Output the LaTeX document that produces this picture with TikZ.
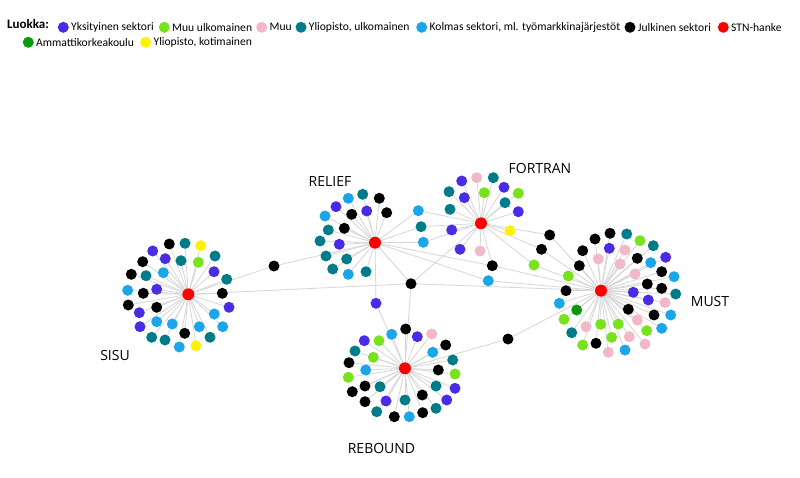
\documentclass[tikz,border=0pt]{standalone}
\usepackage{fontspec}
\setmainfont{Carlito}
\newfontfamily\labelfont{Open Sans}
\usetikzlibrary{backgrounds}
\definecolor{cP}{HTML}{4A2BE6}
\definecolor{cG}{HTML}{78E31C}
\definecolor{cK}{HTML}{F2B8C6}
\definecolor{cT}{HTML}{007C88}
\definecolor{cB}{HTML}{1BA6EA}
\definecolor{cX}{HTML}{000000}
\definecolor{cR}{HTML}{FF0000}
\definecolor{cD}{HTML}{0A990A}
\definecolor{cY}{HTML}{FFF200}
\definecolor{cE}{HTML}{D6D6D6}
\begin{document}
\begin{tikzpicture}[x=1pt,y=-1pt,
  dot/.style={circle,inner sep=0pt,minimum size=11pt,draw=none},
  hub/.style={dot,fill=cR,minimum size=12pt},
  edge/.style={draw=cE,line width=0.8pt},
  proj/.style={font=\labelfont\fontsize{14}{16}\selectfont,inner sep=0pt},
  legtxt/.style={anchor=west,inner sep=0pt,font=\fontsize{11.6}{13}\selectfont}]
\useasboundingbox (0,0) rectangle (800,478);

% legend
\node[anchor=west,inner sep=0pt,font=\bfseries\fontsize{13}{15}\selectfont] (lt) at (7,24) {Luokka:};
\foreach \n/\x/\y/\c/\t in {l1/63.3/27.3/cP/Yksityinen sektori, l2/164.3/27.3/cG/Muu ulkomainen,
  l3/261.7/27.3/cK/Muu, l4/301/27.3/cT/{Yliopisto, ulkomainen},
  l5/421.7/27.3/cB/{Kolmas sektori, ml. työmarkkinajärjestöt}, l6/630/27.3/cX/Julkinen sektori,
  l7/723.3/27.3/cR/STN-hanke, l8/28.3/42.3/cD/Ammattikorkeakoulu, l9/145.7/42.3/cY/{Yliopisto, kotimainen}}
  { \node[dot,fill=\c] (\n) at (\x,\y) {};
    \node[legtxt] (\n t) at ([xshift=2pt]\n.east) {\t}; }

% hubs
\node[hub] (SC) at (188.3,294.3) {};
\node[hub] (RC) at (375,242.7) {};
\node[hub] (FC) at (481,223.3) {};
\node[hub] (MC) at (601,290.7) {};
\node[hub] (BC) at (405,368.3) {};

% project labels
\node[proj] (lS) at (115,355) {SISU};
\node[proj] (lR) at (330,181.7) {RELIEF};
\node[proj] (lF) at (540,168.3) {FORTRAN};
\node[proj] (lM) at (710,301) {MUST};
\node[proj] (lB) at (381.5,448) {REBOUND};

% SISU
\foreach \n/\x/\y/\c in {1/169.3/244/cX,2/185/243.3/cT,3/200.7/245.7/cY,4/152.7/251/cP,5/165.3/258.7/cP,
 6/181/260.7/cT,7/198.3/262.3/cG,8/215/256/cT,9/142.7/261.7/cX,10/214/271.7/cP,11/131.3/274.3/cX,
 12/146/275.7/cT,13/163.3/272.7/cB,14/226.7/279.3/cT,15/127.7/290.3/cB,16/143.3/293.3/cX,17/156.7/289.3/cP,
 18/222.3/293.3/cX,19/128.3/305/cX,20/229/307.3/cP,21/139.3/312.7/cP,22/156.7/307.3/cX,23/214.3/314/cB,
 24/140/326.7/cP,25/156.7/321.7/cB,26/172.3/324/cB,27/199.3/326.7/cB,28/222.7/326.7/cB,29/184.7/333.3/cX,
 30/151.7/337.3/cT,31/165/340/cT,32/179.3/347/cB,33/196/345.7/cY,34/210/337.3/cT}
 { \node[dot,fill=\c] (S\n) at (\x,\y) {}; }

% RELIEF
\foreach \n/\x/\y/\c in {1/348.3/198.3/cB,2/362.7/194.3/cT,3/379.3/198.3/cX,4/336/206.7/cP,5/351.7/214.3/cX,
 6/366.7/211/cP,7/386.7/212.7/cX,8/325/216/cB,9/344.3/228.3/cX,10/328.3/230/cT,11/320/241/cT,
 12/339.3/244.3/cP,13/326/256/cT,14/346.7/259/cT,15/332.7/269/cT,16/348.3/274.3/cB,17/366/271.7/cT}
 { \node[dot,fill=\c] (R\n) at (\x,\y) {}; }

% FORTRAN
\foreach \n/\x/\y/\c in {1/461.7/181/cP,2/476.7/177.7/cK,3/493.3/177.7/cT,4/449/191.7/cT,5/464.3/197.7/cP,
 6/484.3/192.7/cG,7/504/187.3/cP,8/518.3/193.3/cG,9/505/202.7/cT,10/518.3/211.7/cP,11/450/209.3/cT,
 12/451.7/230/cP,13/510/230.7/cY,14/460/249.3/cP,15/480/251/cK}
 { \node[dot,fill=\c] (F\n) at (\x,\y) {}; }

% MUST
\foreach \n/\x/\y/\c in {1/595/239/cX,2/610/233.3/cX,3/626.7/234/cT,4/640/240.7/cG,5/653.3/245.7/cT,
 6/582.7/250.7/cX,7/609.3/248.3/cP,8/625/250/cK,9/665.7/257.3/cP,10/598.3/259/cK,11/620/264/cK,
 12/637.3/258.3/cX,13/650.7/262.7/cB,14/579.3/265.7/cX,15/635/274/cK,16/661.7/271.7/cX,17/674/276.7/cB,
 18/568.3/276/cG,19/647.3/284/cX,20/661.7/288.3/cX,21/675.7/294/cT,22/566/290.7/cX,23/633.3/292.3/cP,
 24/648.3/300/cP,25/665/302.7/cK,26/559.3/303.3/cB,27/576.7/310/cD,28/628.3/309.3/cX,29/637.3/320/cK,
 30/654/315/cX,31/670.7/315/cB,32/564/319.3/cG,33/586/326.7/cK,34/600.7/324.3/cG,35/618.3/324/cG,
 36/646.7/330.7/cG,37/661.7/328.3/cB,38/571.7/332.7/cT,39/629.3/336.7/cK,40/611.7/337.3/cG,
 41/582.7/345/cG,42/596/343.3/cX,43/645/344/cK,44/608.3/352.3/cK,45/625/350/cB}
 { \node[dot,fill=\c] (M\n) at (\x,\y) {}; }

% REBOUND
\foreach \n/\x/\y/\c in {1/391.7/334.3/cB,2/417.3/336.7/cP,3/431.7/334/cK,4/364.3/340.7/cP,5/379/340.7/cG,
 6/355/351/cT,7/445.7/345/cX,8/373.3/357.3/cG,9/432.7/352.3/cB,10/452.7/360/cT,11/349/362.7/cX,
 12/365.7/370/cB,13/438.3/370/cX,14/348.3/377.3/cG,15/455/374/cG,16/352.3/391.7/cX,17/365/386/cX,
 18/380/386.7/cT,19/436/386/cT,20/455/388.3/cP,21/365/401.7/cX,22/386/401/cP,23/405/400/cT,
 24/422.3/395/cX,25/446.7/400/cP,26/376.7/411.7/cT,27/394.3/416.7/cX,28/409.3/416.7/cB,
 29/422.7/412.7/cX,30/436/408.3/cT,31/405.7/329/cX}
 { \node[dot,fill=\c] (B\n) at (\x,\y) {}; }

% shared partners
\node[dot,fill=cX] (hA) at (274,266) {};
\node[dot,fill=cX] (hB) at (411,283.7) {};
\node[dot,fill=cB] (hC1) at (418.3,210.7) {};
\node[dot,fill=cT] (hC2) at (421,226.7) {};
\node[dot,fill=cB] (hC3) at (423.3,242.3) {};
\node[dot,fill=cX] (hD) at (492.3,265.7) {};
\node[dot,fill=cB] (hE) at (488.3,280.7) {};
\node[dot,fill=cX] (hF1) at (549.7,235) {};
\node[dot,fill=cX] (hF2) at (541.5,249.3) {};
\node[dot,fill=cG] (hF3) at (534,265) {};
\node[dot,fill=cX] (hG) at (508,339) {};
\node[dot,fill=cP] (hH) at (376,303.3) {};

\begin{pgfonlayer}{background}
\fill[white] (0,0) rectangle (800,478);
\foreach \i in {1,...,34} \draw[edge] (SC) -- (S\i);
\foreach \i in {1,...,17} \draw[edge] (RC) -- (R\i);
\foreach \i in {1,...,15} \draw[edge] (FC) -- (F\i);
\foreach \i in {1,...,45} \draw[edge] (MC) -- (M\i);
\foreach \i in {1,...,31} \draw[edge] (BC) -- (B\i);
\foreach \a/\b in {SC/hA,RC/hA,
  SC/hB,RC/hB,FC/hB,BC/hB,MC/hB,
  RC/hC1,FC/hC1,RC/hC2,FC/hC2,RC/hC3,FC/hC3,
  RC/hD,FC/hD,MC/hD,RC/hE,MC/hE,
  FC/hF1,MC/hF1,FC/hF2,MC/hF2,FC/hF3,MC/hF3,
  BC/hG,MC/hG,RC/hH,BC/hH}
  \draw[edge] (\a) -- (\b);
\end{pgfonlayer}
\end{tikzpicture}
\end{document}
